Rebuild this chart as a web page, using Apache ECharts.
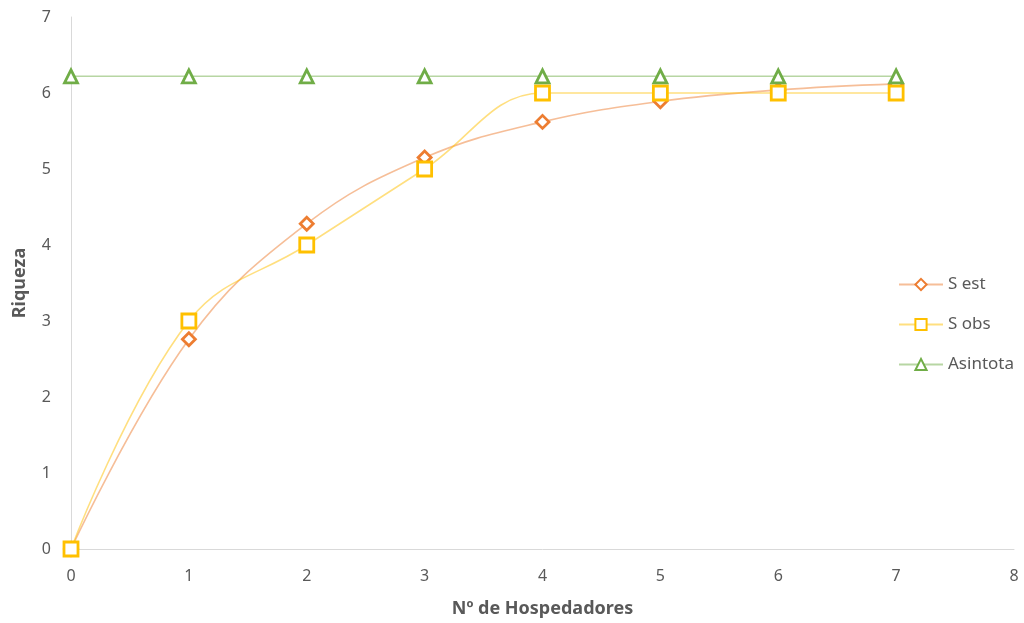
<!DOCTYPE html>
<html><head><meta charset="utf-8">
<script src="https://cdn.jsdelivr.net/npm/echarts@6/dist/echarts.min.js"></script>
<style>html,body{margin:0;padding:0;background:#fff}#c{width:1024px;height:623px}</style>
</head><body><div id="c"></div>
<script>
const xValues = [0, 1, 2, 3, 4, 5, 6, 7];
const sEst = [0, 2.76, 4.28, 5.15, 5.62, 5.89, 6.04, 6.12];
const sObs = [0, 3, 4, 5, 6, 6, 6, 6];
const asintota = [6.22, 6.22, 6.22, 6.22, 6.22, 6.22, 6.22, 6.22];
const seriesNames = ['S est', 'S obs', 'Asintota'];
const xTitle = 'Nº de Hospedadores';
const yTitle = 'Riqueza';

const pair = arr => xValues.map((x, i) => [x, arr[i]]);
const font = 'Noto Sans';
function mk(name, data, color, lineColor, symbol, size) {
  return {
    name, type: 'line', data: pair(data), smooth: 0.4,
    symbol, symbolSize: size,
    lineStyle: { color: lineColor, width: 1.6 },
    itemStyle: { color: '#fff', borderColor: color, borderWidth: 2.8 },
    emphasis: { disabled: true }
  };
}
const chart = echarts.init(document.getElementById('c'));
chart.setOption({
  animation: false,
  grid: { left: 71, right: 10, top: 17, bottom: 74 },
  legend: {
    orient: 'vertical', left: 893, top: 271, itemGap: 23,
    itemWidth: 44, itemHeight: 14,
    textStyle: { fontFamily: font, fontSize: 17, color: '#595959' },
    data: seriesNames
  },
  xAxis: {
    type: 'value', min: 0, max: 8, interval: 1,
    name: xTitle, nameLocation: 'middle', nameGap: 51,
    nameTextStyle: { fontFamily: font, fontSize: 18, fontWeight: 'bold', color: '#595959' },
    axisLine: { lineStyle: { color: '#d9d9d9' } },
    axisTick: { show: false },
    axisLabel: { fontFamily: font, fontSize: 16, color: '#595959', margin: 19 },
    splitLine: { show: false }
  },
  yAxis: {
    type: 'value', min: 0, max: 7, interval: 1,
    name: yTitle, nameLocation: 'middle', nameGap: 42,
    nameTextStyle: { fontFamily: font, fontSize: 18, fontWeight: 'bold', color: '#595959' },
    axisLine: { show: true, lineStyle: { color: '#d9d9d9' } },
    axisTick: { show: false },
    axisLabel: { fontFamily: font, fontSize: 16, color: '#595959', margin: 20 },
    splitLine: { show: false }
  },
  series: [
    mk(seriesNames[0], sEst, '#ED7D31', 'rgba(237,125,49,0.5)', 'diamond', 13),
    mk(seriesNames[1], sObs, '#FFC000', 'rgba(255,192,0,0.5)', 'rect', 14),
    mk(seriesNames[2], asintota, '#70AD47', 'rgba(112,173,71,0.5)', 'triangle', 13)
  ]
});
</script></body></html>
